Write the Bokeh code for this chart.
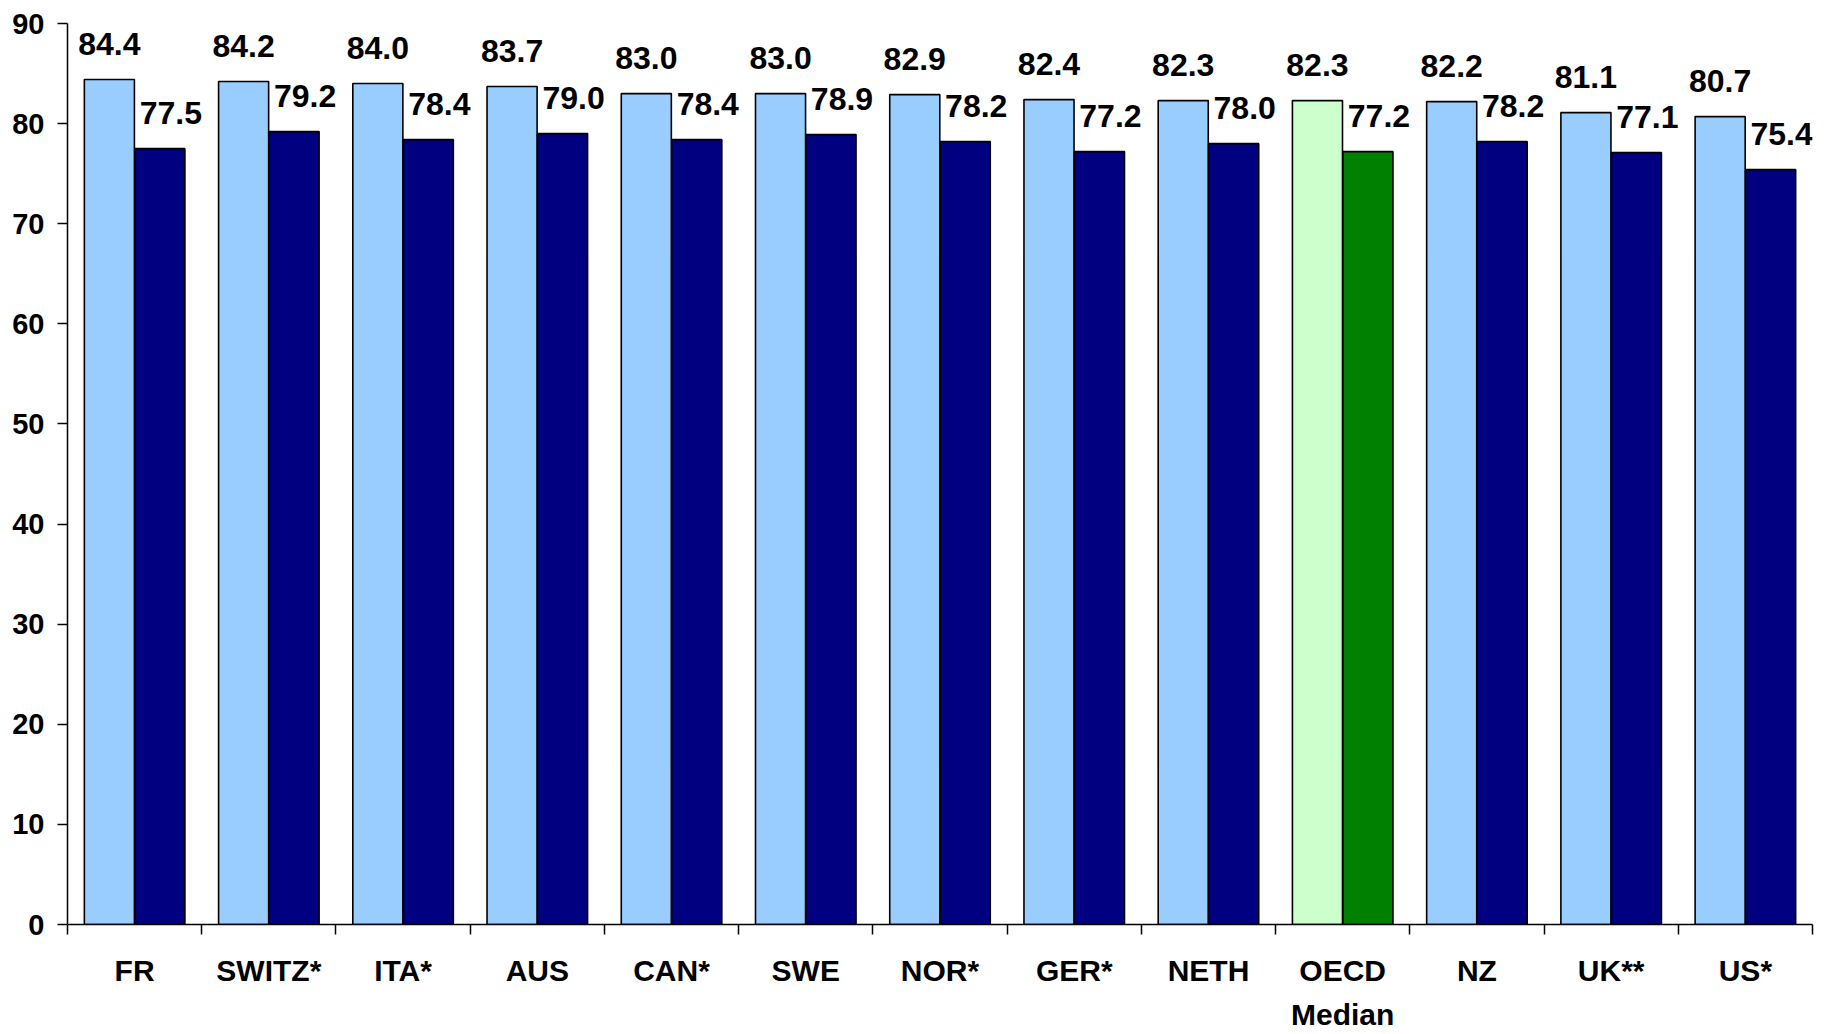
from bokeh.plotting import figure
from bokeh.models import ColumnDataSource, Range1d, FixedTicker
from bokeh.transform import dodge
from bokeh.core.properties import value
from bokeh.embed import file_html
from bokeh.resources import INLINE

categories = ["FR", "SWITZ*", "ITA*", "AUS", "CAN*", "SWE", "NOR*", "GER*",
              "NETH", "OECD\nMedian", "NZ", "UK**", "US*"]
women = [84.4, 84.2, 84.0, 83.7, 83.0, 83.0, 82.9, 82.4, 82.3, 82.3, 82.2, 81.1, 80.7]
men = [77.5, 79.2, 78.4, 79.0, 78.4, 78.9, 78.2, 77.2, 78.0, 77.2, 78.2, 77.1, 75.4]
y_ticks = [0, 10, 20, 30, 40, 50, 60, 70, 80, 90]

FONT = "Liberation Sans"
idx = list(range(len(categories)))
is_median = [c == "OECD\nMedian" for c in categories]
light_col = ["#CCFFCC" if m else "#99CCFF" for m in is_median]
dark_col = ["#008000" if m else "#000080" for m in is_median]

src = ColumnDataSource(dict(
    x=idx, women=women, men=men,
    wlab=[f"{v:.1f}" for v in women], mlab=[f"{v:.1f}" for v in men],
    lc=light_col, dc=dark_col,
))

p = figure(width=1826, height=1034, output_backend="svg", toolbar_location=None,
           x_range=Range1d(-0.5, len(categories) - 0.5), y_range=Range1d(0, 90),
           min_border_left=67, min_border_right=14, min_border_top=23,
           min_border_bottom=107)
p.outline_line_color = None
p.xgrid.grid_line_color = None
p.ygrid.grid_line_color = None
p.background_fill_color = "white"

bw = 0.373
p.vbar(x=dodge("x", -0.188, range=p.x_range), top="women", width=bw, bottom=0,
       source=src, fill_color="lc", line_color="black", line_width=1.6)
p.vbar(x=dodge("x", 0.188, range=p.x_range), top="men", width=bw, bottom=0,
       source=src, fill_color="dc", line_color="black", line_width=1.6)

p.text(x=dodge("x", -0.188, range=p.x_range), y="women", text="wlab", source=src,
       text_align="center", text_baseline="alphabetic", y_offset=-36, x_offset=0,
       text_font=value(FONT), text_font_style="bold", text_font_size="32px",
       text_color="black")
p.text(x=dodge("x", 0.188, range=p.x_range), y="men", text="mlab", source=src,
       text_align="center", text_baseline="alphabetic", y_offset=-36, x_offset=11,
       text_font=value(FONT), text_font_style="bold", text_font_size="32px",
       text_color="black")

# x axis: labels at centres, tick marks at category boundaries
xa = p.xaxis[0]
xa.ticker = FixedTicker(ticks=idx, minor_ticks=[i - 0.5 for i in range(len(categories) + 1)])
xa.major_label_overrides = {i: c for i, c in enumerate(categories)}
xa.major_tick_line_color = None
xa.major_tick_out = 0
xa.major_tick_in = 0
xa.minor_tick_out = 10
xa.minor_tick_in = 0
xa.minor_tick_line_color = "black"
xa.minor_tick_line_width = 1.5
xa.axis_line_color = "black"
xa.axis_line_width = 1.5
xa.major_label_text_font = FONT
xa.major_label_text_font_style = "bold"
xa.major_label_text_font_size = "30px"
xa.major_label_text_color = "black"
xa.major_label_text_line_height = 1.35
xa.major_label_standoff = 19

ya = p.yaxis[0]
ya.ticker = FixedTicker(ticks=y_ticks)
ya.major_tick_out = 10
ya.major_tick_in = 0
ya.minor_tick_line_color = None
ya.major_tick_line_width = 1.5
ya.axis_line_width = 1.5
ya.axis_line_color = "black"
ya.major_label_text_font = FONT
ya.major_label_text_font_style = "bold"
ya.major_label_text_font_size = "29px"
ya.major_label_text_color = "black"
ya.major_label_standoff = 13

open("out.html", "w").write(file_html(p, INLINE))
